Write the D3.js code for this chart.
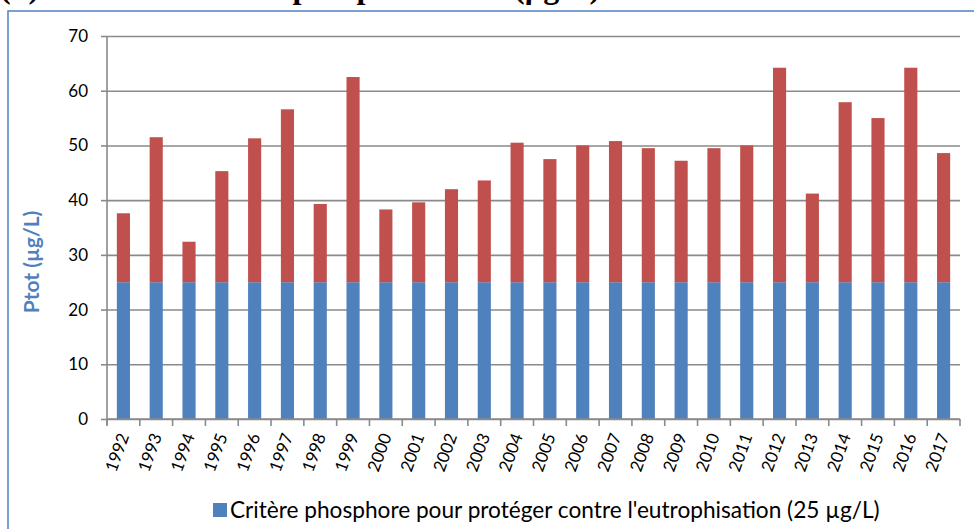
<!DOCTYPE html>
<html><head><meta charset="utf-8">
<script src="https://cdn.jsdelivr.net/npm/d3@7"></script>
<style>html,body{margin:0;padding:0;background:#fff;overflow:hidden}</style>
</head><body>
<svg id="chart" width="974" height="529"></svg>
<script>
// ---- data ----
const years = ["1992","1993","1994","1995","1996","1997","1998","1999","2000","2001","2002","2003","2004","2005","2006","2007","2008","2009","2010","2011","2012","2013","2014","2015","2016","2017"];
const totals = [37.6, 51.5, 32.4, 45.3, 51.3, 56.6, 39.3, 62.5, 38.3, 39.6, 42.0, 43.6, 50.5, 47.5, 50.0, 50.8, 49.5, 47.2, 49.5, 50.0, 64.2, 41.2, 57.9, 55.0, 64.2, 48.6];
const criterion = [25,25,25,25,25,25,25,25,25,25,25,25,25,25,25,25,25,25,25,25,25,25,25,25,25,25];
const yTicks = [0, 10, 20, 30, 40, 50, 60, 70];
const legendLabel = "Critère phosphore pour protéger contre l'eutrophisation (25 µg/L)";
const yTitle = "Ptot (µg/L)";
const topTitle = "(b) Concentration en phosphore total (µg/L)";

// ---- build ----
const rows = years.map((y, i) => ({year: y, critere: criterion[i], excedent: totals[i] - criterion[i]}));
const keys = ["critere", "excedent"];
const colors = {critere: "#4F81BD", excedent: "#C0504D"};

const svg = d3.select("#chart");
const font = "Lato, 'Open Sans', sans-serif";

// top title, cropped by the page edge as in the reference
svg.append("text").attr("x", 0).attr("y", -2)
  .attr("font-family", "'Liberation Serif', 'Times New Roman', serif")
  .attr("font-weight", "bold").attr("font-size", 32).attr("fill", "#000")
  .text(topTitle);

// frame
svg.append("rect").attr("x", 8).attr("y", 11).attr("width", 1000).attr("height", 600)
  .attr("fill", "#fff").attr("stroke", "#4F81BD").attr("stroke-width", 1.5);

const x = d3.scaleBand().domain(years).range([107, 960]).paddingInner(0.6).paddingOuter(0.3);
const y = d3.scaleLinear().domain([0, 70]).range([419, 36]);

// gridlines
const grid = svg.append("g").attr("transform", "translate(107,0)")
  .call(d3.axisLeft(y).tickValues(yTicks).tickSize(-(960 - 107)).tickFormat(""));
grid.select(".domain").remove();
grid.selectAll("line").attr("stroke", "#8a8a8a").attr("stroke-width", 1.6);

// bars
const series = d3.stack().keys(keys)(rows);
svg.append("g").selectAll("g").data(series).join("g")
  .attr("fill", d => colors[d.key])
  .selectAll("rect").data(d => d).join("rect")
  .attr("x", d => x(d.data.year))
  .attr("width", x.bandwidth())
  .attr("y", d => y(d[1]))
  .attr("height", d => y(d[0]) - y(d[1]));

// y axis
const ya = svg.append("g").attr("transform", "translate(107,0)")
  .call(d3.axisLeft(y).tickValues(yTicks).tickSize(6).tickPadding(13));
ya.select(".domain").attr("d", `M0,${y(70)}V${y(0) + 6}`).attr("stroke", "#8a8a8a").attr("stroke-width", 1.6);
ya.selectAll("line").attr("stroke", "#8a8a8a").attr("stroke-width", 1.6);
ya.selectAll("text").attr("font-family", font).attr("font-size", 17).attr("fill", "#000");

// x axis: line + boundary ticks
const xa = svg.append("g");
const x0 = x.range()[0], step = x.step();
xa.append("line").attr("x1", x0).attr("x2", x.range()[1]).attr("y1", y(0)).attr("y2", y(0))
  .attr("stroke", "#8a8a8a").attr("stroke-width", 1.6);
xa.selectAll("line.tk").data(d3.range(years.length + 1)).join("line").attr("class", "tk")
  .attr("x1", i => x0 + i * step).attr("x2", i => x0 + i * step)
  .attr("y1", y(0)).attr("y2", y(0) + 7)
  .attr("stroke", "#8a8a8a").attr("stroke-width", 1.6);
xa.selectAll("text").data(years).join("text")
  .attr("transform", d => `translate(${x(d) + x.bandwidth() / 2 + 6},436) rotate(-70)`)
  .attr("text-anchor", "end")
  .attr("font-family", font).attr("font-size", 17).attr("fill", "#000")
  .text(d => d);

// y title
svg.append("text")
  .attr("transform", "translate(39,262) rotate(-90)")
  .attr("text-anchor", "middle")
  .attr("font-family", font).attr("font-weight", "bold").attr("font-size", 21)
  .attr("fill", "#4F81BD").text(yTitle);

// legend
const lg = svg.append("g");
lg.append("rect").attr("x", 213).attr("y", 503).attr("width", 14).attr("height", 14).attr("fill", colors.critere);
const lt = lg.append("text").attr("x", 230).attr("y", 518)
  .attr("font-family", font).attr("font-size", 20).attr("fill", "#000").text(legendLabel);
const w = lt.node().getComputedTextLength();
lt.attr("font-size", 20 * 650 / w);
</script>
</body></html>
